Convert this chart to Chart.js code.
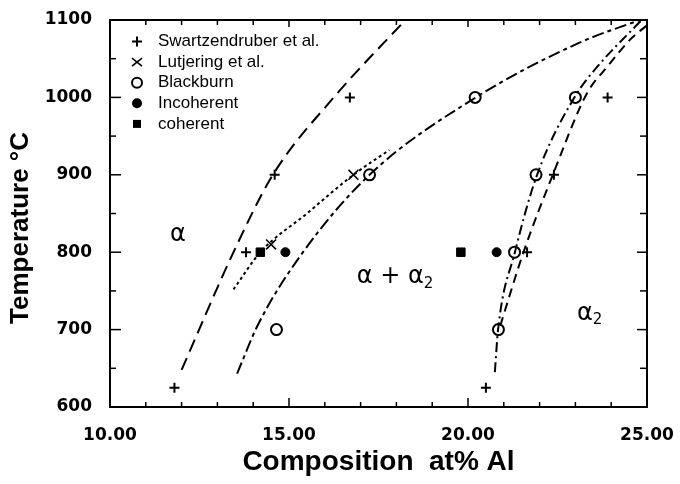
<!DOCTYPE html>
<html>
<head>
<meta charset="utf-8">
<script src="https://cdn.jsdelivr.net/npm/chart.js@4/dist/chart.umd.min.js"></script>
<style>
html,body{margin:0;padding:0;background:#fff;}
#wrap{width:680px;height:484px;}
</style>
</head>
<body>
<div id="wrap"><canvas id="c" width="680" height="484"></canvas></div>
<script>
// ---------- tick labels ----------
const xMajorTicks = [10, 15, 20, 25];
const xMinorTicks = [11, 12, 13, 14, 16, 17, 18, 19, 21, 22, 23, 24];
const yMajorTicks = [600, 700, 800, 900, 1000, 1100];
const yMinorTicks = [650, 750, 850, 950, 1050];

// ---------- measured points ----------
const swartzX = [11.8, 13.8, 14.6, 16.7, 20.5, 21.65, 22.4, 23.9];
const swartzY = [625, 800, 900, 1000, 625, 800, 900, 1000];
const lutjX = [14.5, 16.8];
const lutjY = [810, 900];
const blackX = [14.65, 17.25, 20.2, 20.85, 21.3, 21.9, 23.0];
const blackY = [700, 900, 1000, 700, 800, 900, 1000];
const incohX = [14.9, 20.8];
const incohY = [800, 800];
const cohX = [14.2, 19.8];
const cohY = [800, 800];

// ---------- boundary curves ----------
const alphaBoundX = [12.0, 13.45, 14.55, 16.25, 18.25];
const alphaBoundY = [648, 800, 900, 1000, 1100];
const cohBoundX = [13.45, 14.2, 15.5, 16.8, 17.8];
const cohBoundY = [752, 800, 850, 900, 932];
const a2LowX = [13.55, 14.13, 15.39, 17.25, 20.22, 23.13, 24.8];
const a2LowY = [643, 706, 800, 900, 1000, 1071, 1100];
const a2HighX = [20.75, 20.84, 21.31, 21.93, 23.0, 23.6, 24.85];
const a2HighY = [645, 700, 800, 900, 1002, 1039, 1100];
const swBoundX = [20.9, 21.55, 22.37, 23.32, 23.88, 24.58, 25.0];
const swBoundY = [705, 800, 900, 1005, 1039, 1077, 1093];

// ---------- region labels ----------
const regionText = ['α', 'α + α', 'α'];
const regionSub = ['', '2', '2'];
const regionX = [11.9, 17.96, 23.4];
const regionY = [823, 768, 721];

const legendLabels = ['Swartzendruber et al.', 'Lutjering et al.', 'Blackburn', 'Incoherent', 'coherent'];

const pts = (xs, ys) => xs.map((v, i) => ({x: v, y: ys[i]}));

const BLACK = '#000';
const pointSets = [
  {label: legendLabels[0], data: pts(swartzX, swartzY), pointStyle: 'cross', pointRadius: 5, pointBorderWidth: 2, pointBorderColor: BLACK, pointBackgroundColor: BLACK, showLine: false, order: 1},
  {label: legendLabels[1], data: pts(lutjX, lutjY), pointStyle: 'crossRot', pointRadius: 7, pointBorderWidth: 1.6, pointBorderColor: BLACK, pointBackgroundColor: BLACK, showLine: false, order: 1},
  {label: legendLabels[2], data: pts(blackX, blackY), pointStyle: 'circle', pointRadius: 5.5, pointBorderWidth: 2, pointBorderColor: BLACK, pointBackgroundColor: 'rgba(0,0,0,0)', showLine: false, order: 1},
  {label: legendLabels[3], data: pts(incohX, incohY), pointStyle: 'circle', pointRadius: 4.5, pointBorderWidth: 1, pointBorderColor: BLACK, pointBackgroundColor: BLACK, showLine: false, order: 1},
  {label: legendLabels[4], data: pts(cohX, cohY), pointStyle: 'rect', pointRadius: 6, pointBorderWidth: 1, pointBorderColor: BLACK, pointBackgroundColor: BLACK, showLine: false, order: 1}
];
const curve = (xs, ys, dash) => ({
  type: 'line', data: pts(xs, ys), showLine: true, pointRadius: 0, borderColor: BLACK,
  borderWidth: 2, borderDash: dash, cubicInterpolationMode: 'monotone', fill: false, order: 2
});
const curveSets = [
  curve(alphaBoundX, alphaBoundY, [13, 7]),
  curve(cohBoundX, cohBoundY, [3, 3]),
  curve(a2LowX, a2LowY, [12, 4, 4, 4]),
  curve(a2HighX, a2HighY, [10, 4, 2, 4]),
  curve(swBoundX, swBoundY, [9, 6])
];

function drawMarker(ctx, style, x, y) {
  ctx.save();
  ctx.strokeStyle = BLACK; ctx.fillStyle = BLACK;
  ctx.beginPath();
  if (style === 'plus') {
    ctx.lineWidth = 2;
    ctx.moveTo(x - 5, y); ctx.lineTo(x + 5, y); ctx.moveTo(x, y - 5); ctx.lineTo(x, y + 5); ctx.stroke();
  } else if (style === 'x') {
    ctx.lineWidth = 1.6;
    ctx.moveTo(x - 5, y - 4); ctx.lineTo(x + 5, y + 4); ctx.moveTo(x + 5, y - 4); ctx.lineTo(x - 5, y + 4); ctx.stroke();
  } else if (style === 'open') {
    ctx.lineWidth = 2; ctx.arc(x, y, 5, 0, Math.PI * 2); ctx.stroke();
  } else if (style === 'dot') {
    ctx.arc(x, y, 5, 0, Math.PI * 2); ctx.fill();
  } else {
    ctx.rect(x - 4, y - 4, 8, 8); ctx.fill();
  }
  ctx.restore();
}

const legendStyles = ['plus', 'x', 'open', 'dot', 'square'];
const legendPlugin = {
  id: 'insideLegend',
  afterDraw(chart) {
    const ctx = chart.ctx;
    ctx.save();
    ctx.font = '17px "Liberation Sans", Arial, sans-serif';
    ctx.fillStyle = BLACK; ctx.textBaseline = 'middle'; ctx.textAlign = 'left';
    legendLabels.forEach((t, i) => {
      const yy = 41.5 + i * 20.6;
      drawMarker(ctx, legendStyles[i], 137, yy);
      ctx.fillText(t, 158, yy);
    });
    ctx.restore();
  }
};

const framePlugin = {
  id: 'frameTicks',
  afterDatasetsDraw(chart) {
    const {ctx, chartArea: a, scales: {x, y}} = chart;
    ctx.save();
    ctx.strokeStyle = BLACK;
    ctx.lineWidth = 2;
    ctx.strokeRect(a.left, a.top, a.right - a.left, a.bottom - a.top);
    ctx.lineWidth = 1.5;
    const seg = (x1, y1, x2, y2) => { ctx.beginPath(); ctx.moveTo(x1, y1); ctx.lineTo(x2, y2); ctx.stroke(); };
    xMajorTicks.forEach(v => { const p = x.getPixelForValue(v); seg(p, a.bottom, p, a.bottom - 9); seg(p, a.top, p, a.top + 7); });
    xMinorTicks.forEach(v => { const p = x.getPixelForValue(v); seg(p, a.bottom, p, a.bottom - 5); seg(p, a.top, p, a.top + 5); });
    yMajorTicks.forEach(v => { const p = y.getPixelForValue(v); seg(a.left, p, a.left + 11, p); seg(a.right, p, a.right - 10, p); });
    yMinorTicks.forEach(v => { const p = y.getPixelForValue(v); seg(a.left, p, a.left + 6, p); seg(a.right, p, a.right - 7, p); });
    ctx.restore();
  }
};

const regionPlugin = {
  id: 'regionLabels',
  afterDatasetsDraw(chart) {
    const {ctx, scales: {x, y}} = chart;
    ctx.save();
    ctx.fillStyle = BLACK;
    ctx.textBaseline = 'middle';
    regionText.forEach((t, i) => {
      ctx.font = '24px "DejaVu Sans", sans-serif';
      const mainW = ctx.measureText(t).width;
      ctx.font = '15px "DejaVu Sans", sans-serif';
      const subW = regionSub[i] ? ctx.measureText(regionSub[i]).width : 0;
      const total = mainW + subW;
      const px = x.getPixelForValue(regionX[i]) - total / 2;
      const py = y.getPixelForValue(regionY[i]);
      ctx.font = '24px "DejaVu Sans", sans-serif';
      ctx.textAlign = 'left';
      ctx.fillText(t, px, py);
      if (regionSub[i]) {
        ctx.font = '15px "DejaVu Sans", sans-serif';
        ctx.fillText(regionSub[i], px + mainW, py + 7);
      }
    });
    ctx.restore();
  }
};

const tickFont = {family: '"DejaVu Sans", sans-serif', weight: 'bold', size: 17};

new Chart(document.getElementById('c'), {
  type: 'scatter',
  data: {datasets: [...pointSets, ...curveSets]},
  options: {
    responsive: false,
    animation: false,
    devicePixelRatio: 1,
    layout: {padding: {top: 20, right: 33, left: 0, bottom: 0}},
    plugins: {legend: {display: false}, tooltip: {enabled: false}},
    scales: {
      x: {
        type: 'linear', min: 10, max: 25,
        afterBuildTicks: s => { s.ticks = xMajorTicks.map(v => ({value: v})); },
        ticks: {callback: v => Number(v).toFixed(2), font: tickFont, color: BLACK, padding: 18, maxRotation: 0, autoSkip: false},
        grid: {display: false, drawTicks: false},
        border: {display: true, color: BLACK, width: 2},
        title: {display: true, text: 'Composition  at% Al', color: BLACK,
          font: {family: '"Liberation Sans", Arial, sans-serif', weight: 'bold', size: 28, lineHeight: 1},
          padding: {top: 0, bottom: 8}},
        afterFit: s => { s.height = 77; s.paddingLeft = 0; s.paddingRight = 0; }
      },
      y: {
        type: 'linear', min: 600, max: 1100,
        afterBuildTicks: s => { s.ticks = yMajorTicks.map(v => ({value: v})); },
        ticks: {callback: v => String(v), font: tickFont, color: BLACK, padding: 18, autoSkip: false},
        grid: {display: false, drawTicks: false},
        border: {display: true, color: BLACK, width: 2},
        title: {display: true, text: 'Temperature °C    ', color: BLACK,
          font: {family: '"Liberation Sans", Arial, sans-serif', weight: 'bold', size: 26, lineHeight: 1},
          padding: {top: 8, bottom: 0}},
        afterFit: s => { s.width = 110; s.paddingTop = 0; s.paddingBottom = 0; }
      }
    }
  },
  plugins: [framePlugin, regionPlugin, legendPlugin]
});
</script>
</body>
</html>
